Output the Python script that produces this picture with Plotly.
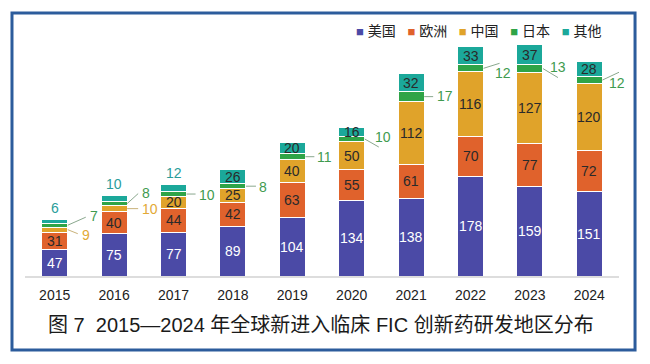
import plotly.graph_objects as go

years = [2015, 2016, 2017, 2018, 2019, 2020, 2021, 2022, 2023, 2024]
us = [47, 75, 77, 89, 104, 134, 138, 178, 159, 151]
eu = [31, 40, 44, 42, 63, 55, 61, 70, 77, 72]
cn = [9, 10, 20, 25, 40, 50, 112, 116, 127, 120]
jp = [7, 8, 10, 8, 11, 10, 17, 12, 13, 12]
ot = [6, 10, 12, 26, 20, 16, 32, 33, 37, 28]
names = ["美国", "欧洲", "中国", "日本", "其他"]
caption = "图 7  2015—2024 年全球新进入临床 FIC 创新药研发地区分布"

colors = ["#4B4AA6", "#E0622C", "#E0A32A", "#2FA447", "#1BA89A"]
series = [us, eu, cn, jp, ot]
BW = 0.44
FONT = "Liberation Sans, Noto Sans CJK SC, sans-serif"
DARK = "#2a2a2a"

fig = go.Figure()
for name, vals, col in zip(names, series, colors):
    fig.add_trace(go.Bar(x=years, y=vals, name=name, width=BW,
                         marker=dict(color=col, line=dict(color="white", width=1)),
                         showlegend=False, hoverinfo="skip"))

annotations = []
shapes = []

bases = []
cum = [0] * len(years)
for vals in series:
    bases.append(cum[:])
    cum = [c + v for c, v in zip(cum, vals)]
totals = cum

def inside(x, y, t, color):
    annotations.append(dict(x=x, y=y, text=str(t), showarrow=False, xref="x", yref="y",
                            font=dict(family=FONT, size=14, color=color)))

for i, yr in enumerate(years):
    inside(yr, bases[0][i] + us[i] / 2, us[i], "white")
    inside(yr, bases[1][i] + eu[i] / 2, eu[i], DARK)
    if i >= 2:
        inside(yr, bases[2][i] + cn[i] / 2, cn[i], DARK)
    if i >= 3:
        inside(yr, bases[4][i] + ot[i] / 2, ot[i], DARK)
    else:
        annotations.append(dict(x=yr, y=totals[i], text=str(ot[i]), showarrow=False,
                                yshift=12, font=dict(family=FONT, size=14, color="#2A9D9A")))

# outside labels with leader lines: (series index, year index, line dx, dy, text dx, dy) in screen px
leaders = [
    (3, 0, 18, -8, 20, -9),
    (2, 0, 10, 4, 12, 5),
    (3, 1, 11, -10, 13, -11),
    (2, 1, 11, 0, 13, 0),
    (3, 2, 9, 0, 10, 1),
    (3, 3, 10, 0, 11, 1),
    (3, 4, 9, 0, 10, 0),
    (3, 5, 14, 8, 8, -2),
    (3, 6, 9, 0, 11, -1),
    (3, 7, 16, -5, 9, 5),
    (3, 8, 15, 9, 5, -2),
    (3, 9, 17, -8, 5, 3),
]
lab_colors = {2: "#E2A935", 3: "#3F9B4F"}
line_colors = {2: "#c9b27a", 3: "#8aa88e"}
for s, i, ldx, ldy, tdx, tdy in leaders:
    xa = years[i] + BW / 2
    ya = bases[s][i] + series[s][i] / 2
    shapes.append(dict(type="line", xref="x", yref="y", xsizemode="pixel", ysizemode="pixel",
                       xanchor=xa, yanchor=ya, x0=0, y0=0, x1=ldx, y1=-ldy,
                       line=dict(color=line_colors[s], width=1)))
    annotations.append(dict(x=xa, y=ya, text=str(series[s][i]), showarrow=False,
                            xanchor="left", xshift=tdx, yshift=-tdy,
                            font=dict(family=FONT, size=14, color=lab_colors[s])))

# legend
leg = "   ".join(f"<span style='color:{c};font-size:13px'>■</span> {n}" for n, c in zip(names, colors))
annotations.append(dict(xref="paper", yref="paper", x=0.973, y=0.992, xanchor="right", yanchor="middle",
                        text=leg, showarrow=False, font=dict(family=FONT, size=14, color="#222")))

# caption
annotations.append(dict(xref="paper", yref="paper", x=0.499, y=-0.198, xanchor="center", yanchor="middle",
                        text=caption, showarrow=False, font=dict(family=FONT, size=20, color="#1a1a1a")))

# frame
shapes.append(dict(type="rect", xref="paper", yref="paper", x0=-0.0219, x1=1.027, y0=-0.2996, y1=1.065,
                   line=dict(color="#2C5C9C", width=3), fillcolor="rgba(0,0,0,0)"))

fig.update_layout(
    barmode="stack", width=650, height=364,
    margin=dict(l=25, r=31, t=29, b=88),
    paper_bgcolor="white", plot_bgcolor="white",
    xaxis=dict(range=[2014.5, 2024.5], tickvals=years, ticktext=[str(y) for y in years],
               showgrid=False, zeroline=False, showline=True, linecolor="#dddddd", linewidth=1.5,
               ticks="outside", ticklen=5, tickcolor="rgba(0,0,0,0)",
               tickfont=dict(family=FONT, size=14, color="#222")),
    yaxis=dict(range=[0, 440], visible=False),
    annotations=annotations, shapes=shapes,
)
fig.write_html("out.html", config={"displayModeBar": False},
               post_script="document.body.style.margin='0';document.body.style.overflow='hidden';")
